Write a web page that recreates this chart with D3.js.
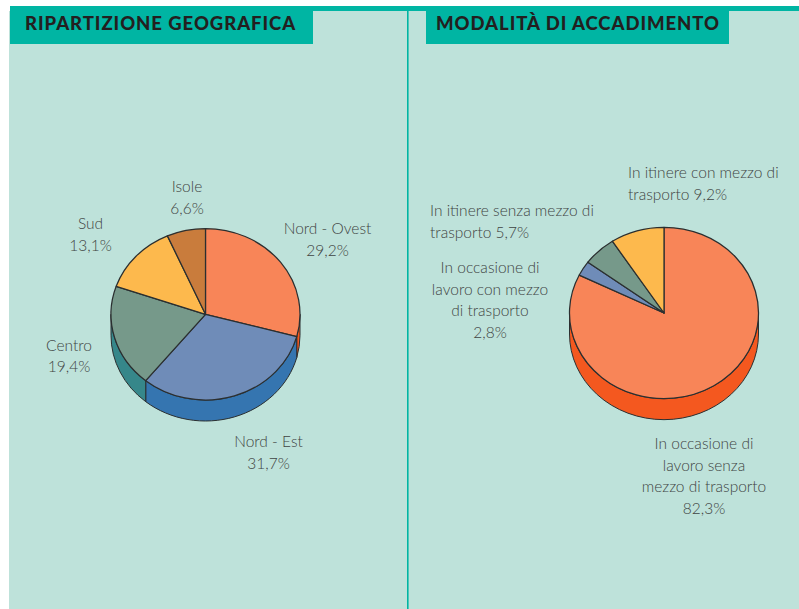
<!DOCTYPE html>
<html>
<head>
<meta charset="utf-8">
<script src="https://cdn.jsdelivr.net/npm/d3@7"></script>
<style>
html, body { margin: 0; padding: 0; background: #fff; }
svg { display: block; }
.title { font-family: Lato, sans-serif; font-weight: 900; font-size: 18.5px; fill: #231f20; letter-spacing: 0.95px; }
.lab { font-family: Lato, sans-serif; font-weight: 300; font-size: 15.5px; fill: #3f4443; }
</style>
</head>
<body>
<div id="chart"></div>
<script>
// Data
var geoTitle = "RIPARTIZIONE GEOGRAFICA";
var geoValues = [29.2, 31.7, 19.4, 13.1, 6.6];
var geoLabels = [
    ["Nord - Ovest", "%v"],
    ["Nord - Est", "%v"],
    ["Centro", "%v"],
    ["Sud", "%v"],
    ["Isole", "%v"]
];

var modeTitle = "MODALITÀ DI ACCADIMENTO";
var modeValues = [82.3, 2.8, 5.7, 9.2];
var modeLabels = [
    ["In occasione di", "lavoro senza", "mezzo di trasporto", "%v"],
    ["In occasione di", "lavoro con mezzo", "di trasporto", "%v"],
    ["In itinere senza mezzo di", "trasporto %v"],
    ["In itinere con mezzo di", "trasporto %v"]
];

// Colours: top face and side wall
var geoTop = ["#f88558", "#6f8cb8", "#76998a", "#fdb94d", "#c97c3c"];
var geoSide = ["#f4581f", "#3575b0", "#36878a", "#fdb94d", "#c97c3c"];
var modeTop = ["#f88558", "#6f8cb8", "#76998a", "#fdb94d"];
var modeSide = ["#f4581f", "#3575b0", "#36878a", "#fdb94d"];

// Label placement
var geoPos = [
    { x: 327.5, y: 234, anchor: "middle" },
    { x: 268.5, y: 447, anchor: "middle" },
    { x: 69, y: 350.5, anchor: "middle" },
    { x: 90.5, y: 229, anchor: "middle" },
    { x: 187, y: 192, anchor: "middle" }
];
var modePos = [
    { x: 704, y: 449, anchor: "middle" },
    { x: 490, y: 273, anchor: "middle" },
    { x: 430, y: 216, anchor: "start" },
    { x: 628, y: 178, anchor: "start" }
];

var svgWidth = 799;
var svgHeight = 609;
var rx = 94.5, ry = 85.7, depth = 21;
var strokeColor = "#2b2f30";

var svg = d3.select("#chart")
    .append("svg")
    .attr("width", svgWidth)
    .attr("height", svgHeight);

// Panel background
svg.append("rect").attr("x", 9).attr("y", 11).attr("width", svgWidth - 9).attr("height", svgHeight - 11).attr("fill", "#bee2da");
svg.append("rect").attr("x", 10).attr("y", 6).attr("width", svgWidth - 10).attr("height", 5).attr("fill", "#00b5a3");
svg.append("line").attr("x1", 407.8).attr("x2", 407.8).attr("y1", 11).attr("y2", svgHeight).attr("stroke", "#00b5a3").attr("stroke-width", 1.6);

// Title tabs
function drawTitle(text, x, y, w, h, textX) {
    svg.append("rect").attr("x", x).attr("y", y).attr("width", w).attr("height", h).attr("fill", "#00b5a3");
    svg.append("text").attr("class", "title").attr("x", textX).attr("y", 30).text(text);
}
drawTitle(geoTitle, 10, 6, 303, 38, 25);
drawTitle(modeTitle, 426, 11, 303, 33, 436);

var pie = d3.pie().sort(null).value(d => d);
var fmt = v => d3.format(".1f")(v).replace(".", ",") + "%";

// point on the ellipse, angle clockwise from top
function pt(a, dy) {
    return [rx * Math.sin(a), -ry * Math.cos(a) + (dy || 0)];
}

function sidePath(a0, a1) {
    var p0 = pt(a0), p1 = pt(a1), p2 = pt(a1, depth), p3 = pt(a0, depth);
    return "M" + p0 + "A" + rx + "," + ry + " 0 0 1 " + p1 +
        "L" + p2 + "A" + rx + "," + ry + " 0 0 0 " + p3 + "Z";
}

function drawPie(cx, cy, values, tops, sides) {
    var arcs = pie(values);
    var g = svg.append("g").attr("transform", `translate(${cx}, ${cy})`);

    // side wall, only the front half of the ellipse shows
    arcs.forEach(function(d, i) {
        var a0 = Math.max(d.startAngle, Math.PI / 2);
        var a1 = Math.min(d.endAngle, 3 * Math.PI / 2);
        if (a1 <= a0) return;
        g.append("path")
            .attr("d", sidePath(a0, a1))
            .attr("fill", sides[i])
            .attr("stroke", strokeColor)
            .attr("stroke-width", 1);
    });

    // top face, circle arcs squashed to the ellipse
    var arc = d3.arc().innerRadius(0).outerRadius(rx);
    g.append("g")
        .attr("transform", `scale(1, ${ry / rx})`)
        .selectAll("path")
        .data(arcs)
        .enter()
        .append("path")
        .attr("d", arc)
        .attr("fill", (d, i) => tops[i])
        .attr("stroke", strokeColor)
        .attr("stroke-width", 1.25)
        .attr("stroke-linejoin", "round")
        .attr("vector-effect", "non-scaling-stroke");
}

function drawLabels(labels, values, pos) {
    labels.forEach(function(lines, i) {
        var t = svg.append("text")
            .attr("class", "lab")
            .attr("text-anchor", pos[i].anchor);
        lines.forEach(function(line, j) {
            t.append("tspan")
                .attr("x", pos[i].x)
                .attr("y", pos[i].y + j * 21.7)
                .text(line.replace("%v", fmt(values[i])));
        });
    });
}

drawPie(205.5, 314.3, geoValues, geoTop, geoSide);
drawPie(664, 313, modeValues, modeTop, modeSide);
drawLabels(geoLabels, geoValues, geoPos);
drawLabels(modeLabels, modeValues, modePos);
</script>
</body>
</html>
